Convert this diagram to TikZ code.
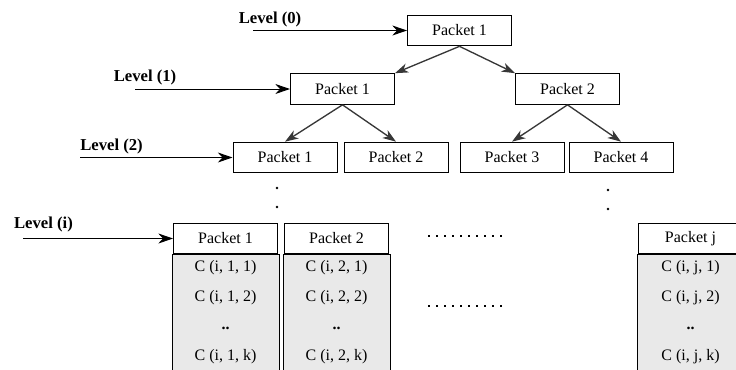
\documentclass[tikz,border=0pt]{standalone}
\usepackage{fontspec}
\setmainfont{Liberation Serif}
\usetikzlibrary{arrows.meta}

\tikzset{every picture/.style={line width=0.75pt}}

\begin{document}
\begin{tikzpicture}[x=0.75pt,y=0.75pt,yscale=-1,xscale=1,
	pkt/.style={draw, fill=white, minimum width=78pt, minimum height=23pt, inner sep=0.75pt, font=\fontsize{12}{14}\selectfont},
	lvl/.style={inner sep=0.75pt, font=\bfseries\fontsize{12.5}{14}\selectfont},
	cell/.style={inner sep=0.75pt, font=\fontsize{12}{14}\selectfont},
	tree/.style={-{Stealth[length=10pt,width=7pt,inset=3pt]}, color={rgb, 255:red, 55; green, 55; blue, 55}, line width=1pt},
	feed/.style={-{Stealth[length=11pt,width=7.5pt,inset=3.5pt]}},
	dotline/.style={line width=1.5pt, dash pattern=on 1.5pt off 4.5pt},
	]
	\useasboundingbox (0,0) rectangle (736,369);
	
	%level 0
	\node [pkt] (p0) at (459.5,30.5) {Packet 1};
	%level 1
	\node [pkt] (a1) at (342.5,89) {Packet 1};
	\node [pkt] (a2) at (567.5,89) {Packet 2};
	%level 2
	\node [pkt] (b1) at (285,157.5) {Packet 1};
	\node [pkt] (b2) at (396,157.5) {Packet 2};
	\node [pkt] (b3) at (512,157.5) {Packet 3};
	\node [pkt] (b4) at (621,157.5) {Packet 4};
	%level i
	\node [pkt] (q1) at (225.5,238.5) {Packet 1};
	\node [pkt] (q2) at (336.5,238.5) {Packet 2};
	\node [pkt] (q3) at (690.5,238.5) {Packet j};
	
	%tree arrows
	\draw [tree] (p0.south) -- (a1.north east);
	\draw [tree] (p0.south) -- (a2.north west);
	\draw [tree] (a1.south) -- (b1.north);
	\draw [tree] (a1.south) -- (b2.north);
	\draw [tree] (a2.south) -- (b3.north);
	\draw [tree] (a2.south) -- (b4.north);
	
	%level labels
	\node [lvl] (l0) at (270,19) {Level (0)};
	\node [lvl] (l1) at (145,77) {Level (1)};
	\node [lvl] (l2) at (111.5,146) {Level (2)};
	\node [lvl] (li) at (43.5,224) {Level (i)};
	\coordinate (s0) at (253,30.5);
	\coordinate (s1) at (135,89);
	\coordinate (s2) at (80,157.5);
	\coordinate (si) at (23,238.5);
	\draw [feed] (s0) -- (p0.west);
	\draw [feed] (s1) -- (a1.west);
	\draw [feed] (s2) -- (b1.west);
	\draw [feed] (si) -- (q1.west);
	
	%columns of level i
	\foreach \n/\x/\j in {1/225.5/1, 2/336.5/2, 3/690.5/j} {
		\draw [fill={rgb, 255:red, 233; green, 233; blue, 233}] (q\n.south west) ++(-1,0) rectangle ++(107,130);
		\node [cell] (c\n1) at (\x,268) {C (i, \j, 1)};
		\node [cell] (c\n2) at (\x,298) {C (i, \j, 2)};
		\node [cell] (c\n3) at (\x,328) {\textbf{..}};
		\node [cell] (c\n4) at (\x,357) {C (i, \j, k)};
	}
	
	%dots
	\fill (277,188) circle (1.3);
	\fill (277,207) circle (1.3);
	\fill (608,190) circle (1.3);
	\fill (608,209) circle (1.3);
	\draw [dotline] (428,236) -- (508,236);
	\draw [dotline] (428,306) -- (505,306);
	
\end{tikzpicture}
\end{document}
